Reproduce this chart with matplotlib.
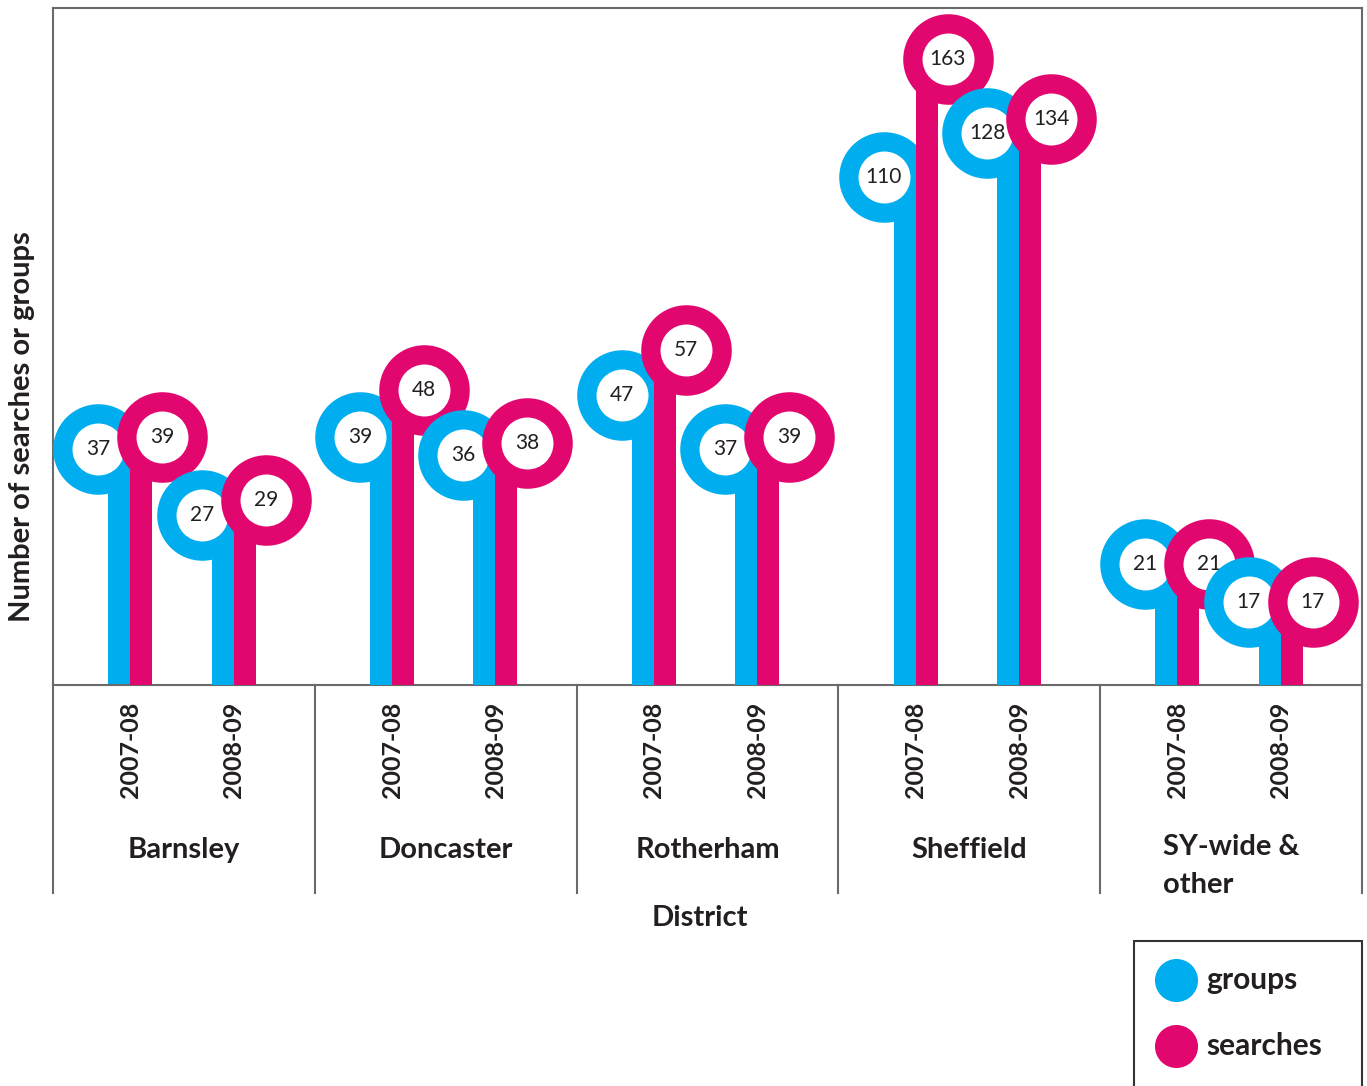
import matplotlib.pyplot as plt
from matplotlib.patches import Rectangle
from matplotlib.lines import Line2D
import numpy as np

districts = ["Barnsley", "Doncaster", "Rotherham", "Sheffield", "SY-wide &\nother"]
years = ["2007-08", "2008-09"]
# groups / searches per district, per year (2007-08, 2008-09)
groups = [[37, 27], [39, 36], [47, 37], [110, 128], [21, 17]]
searches = [[39, 29], [48, 38], [57, 39], [163, 134], [21, 17]]

BLUE = "#00AEEF"
PINK = "#E2066F"
GRAY = "#6a6a6a"
TXT = "#231f20"

plt.rcParams['font.family'] = ['Lato', 'DejaVu Sans']

W, H = 1367, 1086
fig = plt.figure(figsize=(W / 100, H / 100), dpi=100)
ax = fig.add_axes([53 / W, 1 - 685 / H, 1309 / W, 677 / H])
# the original is not drawn to a linear scale; a fourth-root scale is close
ax.set_yscale('function', functions=(lambda v: np.abs(v) ** 0.25,
                                     lambda u: np.abs(u) ** 4))
y0, y1 = 10.4, 191
ax.set_ylim(y0, y1)
ax.set_xlim(0, 5)

px = 5 / 1309.0  # data units per pixel along x
bw = 22 * px
off = 32 * px
pair_pos = [0.295, 0.69]

z = 2
for i in range(len(districts)):
    for j in range(2):
        xc = i + pair_pos[j]
        for vals, col, sgn in [(groups, BLUE, -1), (searches, PINK, 1)]:
            v = vals[i][j]
            ax.bar(xc + sgn * bw / 2, v - y0, bottom=y0, width=bw, color=col,
                   zorder=z)
            cx = xc + sgn * off
            ax.scatter([cx], [v], s=4250, color=col, linewidths=0, zorder=z + 1)
            ax.scatter([cx], [v], s=1400, color="white", linewidths=0, zorder=z + 2)
            ax.text(cx, v, str(v), ha='center', va='center', fontsize=15,
                    color=TXT, zorder=z + 3)
            z += 4

ax.set_xticks([])
ax.set_yticks([])
ax.yaxis.set_minor_locator(plt.NullLocator())
for s in ax.spines.values():
    s.set_color(GRAY)
    s.set_linewidth(1.5)

# table below the axis
trans = ax.get_xaxis_transform()
for k in range(len(districts) + 1):
    ax.add_line(Line2D([k, k], [0, (685 - 893) / 677], transform=trans,
                       color=GRAY, lw=1.5, clip_on=False))
for i, name in enumerate(districts):
    for j, yr in enumerate(years):
        ax.text(i + pair_pos[j], (685 - 702) / 677, yr, transform=trans,
                rotation=90, ha='center', va='top', fontsize=18,
                fontweight='bold', color=TXT)
    if '\n' in name:
        ax.text(i + 0.5, (685 - 834) / 677, name, transform=trans, ha='center',
                va='top', multialignment='left', fontsize=21,
                fontweight='bold', color=TXT, linespacing=1.55)
    else:
        ax.text(i + 0.5, (685 - 850) / 677, name, transform=trans, ha='center',
                va='center', fontsize=21, fontweight='bold', color=TXT)

ax.text(0.494, (685 - 918) / 677, "District", transform=ax.transAxes,
        ha='center', va='center', fontsize=21, fontweight='bold', color=TXT)
fig.text(22 / W, 1 - 427 / H, "Number of searches or groups", rotation=90,
         ha='center', va='center', fontsize=21, fontweight='bold', color=TXT)

# legend
fig.patches.append(Rectangle((1134 / W, -0.01), 228 / W, 1 - 941 / H + 0.01,
                             transform=fig.transFigure, fill=False,
                             edgecolor="#333333", lw=1.5))
for yy, col, lab in [(980, BLUE, "groups"), (1046, PINK, "searches")]:
    fig.add_artist(Line2D([1176 / W], [1 - yy / H], marker='o', markersize=31,
                          color=col, markeredgewidth=0,
                          transform=fig.transFigure))
    fig.text(1206 / W, 1 - yy / H, lab, ha='left', va='center', fontsize=21.5,
             fontweight='bold', color=TXT)

fig.savefig("out.png", dpi=100)
